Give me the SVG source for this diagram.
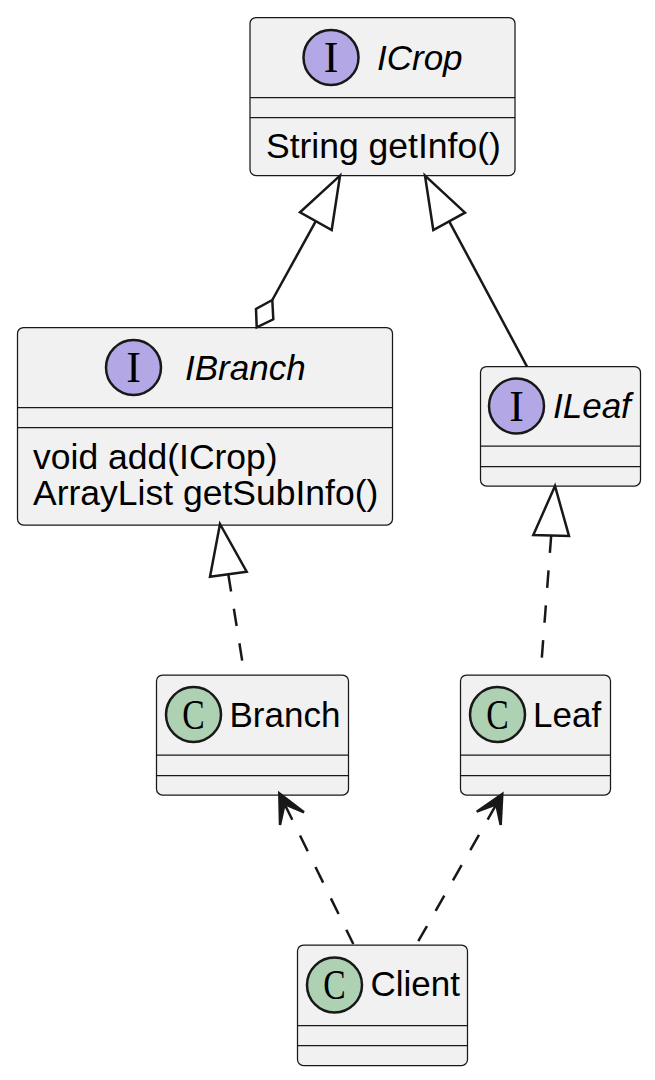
<svg xmlns="http://www.w3.org/2000/svg" width="655" height="1080" viewBox="0 0 655 1080">
<style>
.box{fill:#F1F1F1;stroke:#181818;stroke-width:1.25}
.div{stroke:#181818;stroke-width:1.25}
.ic{fill:#B4A7E5;stroke:#181818;stroke-width:2.5}
.cc{fill:#ADD1B2;stroke:#181818;stroke-width:2.5}
.glyph{font-family:"Liberation Serif",serif;font-size:44px;fill:#000;text-anchor:middle}
.cg{font-family:"Liberation Serif",serif;font-size:42px;fill:#000;text-anchor:middle}
.name{font-family:"Liberation Sans",Arial,sans-serif;font-size:35px;fill:#000}
.it{font-style:italic}
.mem{font-family:"Liberation Sans",Arial,sans-serif;font-size:35.5px;fill:#000}
.ln{fill:none;stroke:#181818;stroke-width:2.5}
.dash{stroke-dasharray:17.5,17.5}
.head{fill:none;stroke:#181818;stroke-width:2.5;stroke-linejoin:miter}
.dep{fill:#181818;stroke:#181818;stroke-width:2.5;stroke-linejoin:miter}
</style>
<rect width="655" height="1080" fill="#FFFFFF"/>
<g id="ICrop">
<rect class="box" x="250" y="17.5" width="265" height="158" rx="6"/>
<circle class="ic" cx="331" cy="57.5" r="27.5"/>
<text class="glyph" x="331" y="72.2">I</text>
<text class="name it" x="377" y="70">ICrop</text>
<line class="div" x1="250" y1="97.5" x2="515" y2="97.5"/>
<line class="div" x1="250" y1="117.5" x2="515" y2="117.5"/>
<text class="mem" x="266" y="158">String getInfo()</text>
</g>
<g id="IBranch">
<rect class="box" x="17.5" y="327.5" width="375" height="197.5" rx="6"/>
<circle class="ic" cx="133.5" cy="367.5" r="27.5"/>
<text class="glyph" x="133.5" y="382.2">I</text>
<text class="name it" x="185" y="380">IBranch</text>
<line class="div" x1="17.5" y1="407.5" x2="392.5" y2="407.5"/>
<line class="div" x1="17.5" y1="427.5" x2="392.5" y2="427.5"/>
<text class="mem" x="33" y="468.5">void add(ICrop)</text>
<text class="mem" x="33" y="505">ArrayList getSubInfo()</text>
</g>
<g id="ILeaf">
<rect class="box" x="480.5" y="366.5" width="160" height="119.5" rx="6"/>
<circle class="ic" cx="516.5" cy="406" r="27.5"/>
<text class="glyph" x="516.5" y="420.7">I</text>
<text class="name it" x="553" y="418">ILeaf</text>
<line class="div" x1="480.5" y1="446" x2="640.5" y2="446"/>
<line class="div" x1="480.5" y1="466.5" x2="640.5" y2="466.5"/>
</g>
<g id="Branch">
<rect class="box" x="156.5" y="675" width="192" height="120" rx="6"/>
<circle class="cc" cx="193.5" cy="714.5" r="27.5"/>
<text class="cg" transform="translate(193.5 728.5) scale(0.8 1)">C</text>
<text class="name" x="229.5" y="727">Branch</text>
<line class="div" x1="156.5" y1="755" x2="348.5" y2="755"/>
<line class="div" x1="156.5" y1="775.5" x2="348.5" y2="775.5"/>
</g>
<g id="Leaf">
<rect class="box" x="460.5" y="675" width="150" height="120" rx="6"/>
<circle class="cc" cx="497.5" cy="714.5" r="27.5"/>
<text class="cg" transform="translate(497.5 728.5) scale(0.8 1)">C</text>
<text class="name" x="533" y="727">Leaf</text>
<line class="div" x1="460.5" y1="755" x2="610.5" y2="755"/>
<line class="div" x1="460.5" y1="775.5" x2="610.5" y2="775.5"/>
</g>
<g id="Client">
<rect class="box" x="297.5" y="945" width="170" height="120.5" rx="6"/>
<circle class="cc" cx="334.5" cy="985" r="27.5"/>
<text class="cg" transform="translate(334.5 999) scale(0.8 1)">C</text>
<text class="name" x="370.5" y="996">Client</text>
<line class="div" x1="297.5" y1="1025.5" x2="467.5" y2="1025.5"/>
<line class="div" x1="297.5" y1="1045.5" x2="467.5" y2="1045.5"/>
</g>
<g id="connectors">
<path class="ln" d="M272.3,300 L315.8,221.2"/>
<polygon class="head" points="340,175.7 300,212.3 331.7,230"/>
<polygon class="head" points="256.7,327.3 256,309 272.3,300 273.3,319.3"/>
<path class="ln" d="M449.2,221.3 L527,366.7"/>
<polygon class="head" points="425,175.7 433.3,230 465,212.7"/>
<path class="ln dash" d="M228.3,574.2 L244.5,675"/>
<polygon class="head" points="220,524 210,576.7 246.7,571.7"/>
<path class="ln dash" d="M551.2,535.5 L540.5,675"/>
<polygon class="head" points="555,486 533.3,535 569,536"/>
<path class="ln dash" d="M284.6,804.1 L353.3,944"/>
<polygon class="dep" points="279.3,793.3 280,825 284.6,804.1 304,812.3"/>
<path class="ln dash" d="M496.3,804.4 L416.7,944"/>
<polygon class="dep" points="502.3,794 476.7,811.7 496.3,804.4 500.7,825"/>
</g>
</svg>
